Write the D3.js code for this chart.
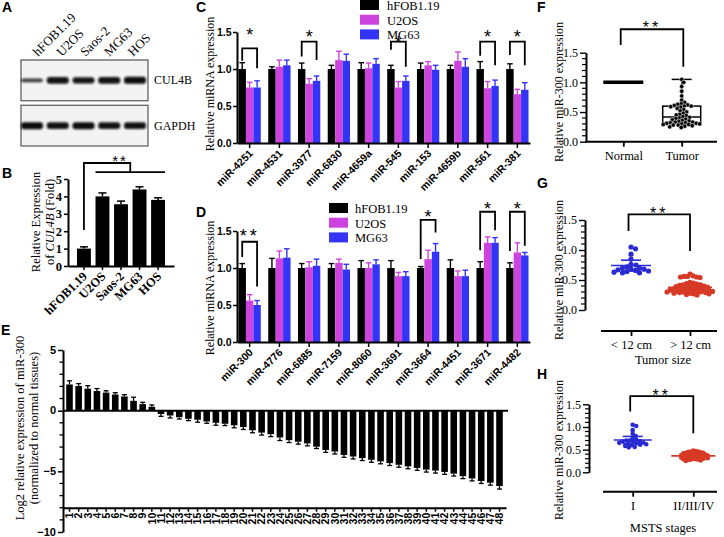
<!DOCTYPE html>
<html><head><meta charset="utf-8">
<script src="https://cdn.jsdelivr.net/npm/d3@7/dist/d3.min.js"></script>
<style>html,body{margin:0;padding:0;background:#fff;}svg{display:block;}</style>
</head><body>
<script>
// ================= DATA =================
const lanes = ["hFOB1.19","U2OS","Saos-2","MG63","HOS"];
const blotProteins = ["CUL4B","GAPDH"];
const cul4bDensity = [0.55,0.95,0.9,0.95,1.0];
const gapdhDensity = [1.0,0.95,1.0,0.95,0.95];

const bCells = ["hFOB1.19","U2OS","Saos-2","MG63","HOS"];
const bValues = [1.0,4.0,3.55,4.4,3.8];
const bErrors = [0.1,0.2,0.18,0.15,0.12];
const bTicks = [0,1,2,3,4,5];

const seriesNames = ["hFOB1.19","U2OS","MG63"];
const barTicks = [0,0.5,1.0,1.5];

const cMirs = ["miR-4251","miR-4531","miR-3977","miR-6830","miR-4659a","miR-545","miR-153","miR-4659b","miR-561","miR-381"];
const cHfob = [1,1,1,1,1,1,1,1,1,1];
const cU2os = [0.75,1.03,0.80,1.12,1.01,0.75,1.05,1.11,0.74,0.66];
const cMg63 = [0.75,1.05,0.84,1.11,1.07,0.84,0.99,1.03,0.77,0.72];
const cHfobErr = [0.085,0.03,0.08,0.05,0.085,0.05,0.08,0.05,0.10,0.07];
const cU2osErr = [0.07,0.09,0.07,0.12,0.07,0.08,0.05,0.12,0.09,0.065];
const cMg63Err = [0.09,0.07,0.065,0.09,0.07,0.065,0.06,0.11,0.08,0.095];
// bracket: category, top, left end, right end, star centre (data units), label
const cSig = [
  {cat:"miR-4251", top:1.28, left:1.11, right:1.01, star:1.52, label:"*"},
  {cat:"miR-3977", top:1.37, left:1.17, right:1.12, star:1.49, label:"*"},
  {cat:"miR-545",  top:1.37, left:1.26, right:1.03, star:1.41, label:"*"},
  {cat:"miR-561",  top:1.37, left:1.18, right:1.05, star:1.49, label:"*"},
  {cat:"miR-381",  top:1.37, left:1.19, right:1.05, star:1.49, label:"*"}
];

const dMirs = ["miR-300","miR-4776","miR-6885","miR-7159","miR-8060","miR-3691","miR-3664","miR-4451","miR-3671","miR-4482"];
const dHfob = [1,1,1,1,1,1,1,1,1,1];
const dU2os = [0.56,1.13,1.01,1.07,1.00,0.89,1.12,0.89,1.34,1.21];
const dMg63 = [0.50,1.14,1.03,0.98,1.05,0.89,1.22,0.89,1.34,1.17];
const dHfobErr = [0.06,0.13,0.06,0.06,0.10,0.10,0.02,0.11,0.085,0.07];
const dU2osErr = [0.08,0.10,0.075,0.05,0.07,0.05,0.12,0.07,0.08,0.13];
const dMg63Err = [0.06,0.12,0.09,0.07,0.06,0.06,0.11,0.08,0.07,0.04];
const dSig = [
  {cat:"miR-300",  top:1.355, left:1.15, right:0.75, star:1.48, label:"**"},
  {cat:"miR-3664", top:1.65,  left:1.12, right:1.48, star:1.74, label:"*"},
  {cat:"miR-3671", top:1.76,  left:1.24, right:1.51, star:1.85, label:"*"},
  {cat:"miR-4482", top:1.76,  left:1.23, right:1.30, star:1.85, label:"*"}
];

const eSamples = ["1","2","3","4","5","6","7","8","9","10","11","12","13","14","15","16","17","18","19","20","21","22","23","24","25","26","27","28","29","30","31","32","33","34","35","36","37","38","39","40","41","42","43","44","45","46","47","48"];
const eValues = [2.16,2.03,1.81,1.62,1.49,1.33,1.17,0.81,0.54,0.32,-0.27,-0.40,-0.54,-0.67,-0.75,-0.89,-1.00,-1.08,-1.21,-1.35,-1.62,-1.81,-1.94,-2.21,-2.43,-2.56,-2.70,-2.97,-3.24,-3.37,-3.65,-3.78,-3.91,-4.05,-4.18,-4.32,-4.46,-4.59,-4.72,-4.86,-4.94,-5.05,-5.19,-5.40,-5.59,-5.80,-5.94,-6.21];
const eErrors = [0.3,0.2,0.25,0.2,0.15,0.15,0.15,0.3,0.15,0.15,0.2,0.2,0.15,0.15,0.2,0.15,0.2,0.15,0.2,0.2,0.2,0.2,0.2,0.25,0.2,0.2,0.2,0.15,0.2,0.2,0.2,0.2,0.2,0.2,0.2,0.2,0.2,0.2,0.2,0.2,0.2,0.2,0.2,0.2,0.2,0.2,0.2,0.25];
const eTicks = [5,0,-5,-10];
const eMinorTicks = [4,3,2,1,-1,-2,-3,-4,-6,-7,-8,-9];

const dotTicks = [0,0.5,1.0,1.5];
const dotMinorTicks = [0.1,0.2,0.3,0.4,0.6,0.7,0.8,0.9,1.1,1.2,1.3,1.4];

const fGroups = ["Normal","Tumor"];
const fNormal = [1,1,1,1,1,1,1,1,1,1,1,1,1,1,1,1,1,1,1,1,1,1,1,1,1,1,1,1,1,1,1,1,1,1,1,1,1,1,1,1,1,1,1,1,1,1,1,1];
const fTumor = [1.05,1.00,0.93,0.85,0.77,0.70,0.66,0.64,0.63,0.62,0.61,0.60,0.60,0.59,0.58,0.56,0.54,0.52,0.50,0.48,0.46,0.45,0.44,0.42,0.41,0.40,0.39,0.38,0.37,0.36,0.35,0.34,0.33,0.33,0.32,0.32,0.31,0.31,0.30,0.30,0.29,0.29,0.28,0.28,0.27,0.26,0.25,0.24];

const gGroups = ["< 12 cm","> 12 cm"];
const gSmall = [1.05,1.02,0.93,0.85,0.76,0.75,0.72,0.70,0.70,0.68,0.68,0.67,0.66,0.65,0.64,0.63,0.62,0.62];
const gLarge = [0.60,0.57,0.56,0.56,0.55,0.55,0.54,0.46,0.45,0.44,0.43,0.42,0.42,0.41,0.40,0.40,0.39,0.39,0.38,0.38,0.37,0.36,0.36,0.35,0.35,0.34,0.34,0.33,0.33,0.33,0.32,0.32,0.31,0.31,0.30,0.30,0.30,0.29,0.29,0.28,0.28,0.27,0.27,0.26,0.25];
const gErr = [0.09,0.04];

const hGroups = ["I","II/III/IV"];
const hEarly = [1.05,1.02,0.93,0.85,0.80,0.75,0.72,0.70,0.70,0.69,0.68,0.67,0.66,0.65,0.64,0.63,0.62,0.61,0.60,0.58,0.56,0.55];
const hLate = [0.48,0.47,0.46,0.46,0.45,0.44,0.43,0.43,0.42,0.42,0.41,0.40,0.40,0.39,0.39,0.38,0.38,0.37,0.37,0.36,0.36,0.35,0.35,0.34,0.34,0.33,0.33,0.32,0.32,0.31,0.31,0.30,0.30,0.29,0.29,0.28,0.28,0.27,0.26,0.25];
const hErr = [0.08,0.03];

// ================= SETUP =================
const SERIF = "'Liberation Serif','Times New Roman',serif";
const SANS = "'Liberation Sans',Arial,sans-serif";
const barColors = ["#000000","#cc44dd","#3434f6"];
const dotBlue = "#2a2ad2", dotRed = "#d63a26";

const svg = d3.select("body").append("svg").attr("width",724).attr("height",537);
svg.append("rect").attr("width",724).attr("height",537).attr("fill","#fff");
const defs = svg.append("defs");
defs.append("filter").attr("id","blur").attr("x","-30%").attr("y","-150%").attr("width","160%").attr("height","400%")
  .append("feGaussianBlur").attr("stdDeviation","1.2 1.1");

function panelLabel(t,x,y){
  svg.append("text").attr("x",x).attr("y",y).attr("font-family",SANS).attr("font-weight","bold")
    .attr("font-size",14).text(t);
}
function styleAxis(g, opt){
  g.select(".domain").attr("stroke","#000").attr("stroke-width",opt.dw||2);
  g.selectAll(".tick line").attr("stroke","#000").attr("stroke-width",opt.tw||1.5);
  g.selectAll(".tick text").attr("fill","#000").attr("font-family",opt.font).attr("font-size",opt.size)
    .attr("font-weight",opt.bold?"bold":"normal");
}
function rotLabel(text,x,y,size,font){
  return svg.append("text").attr("transform",`translate(${x},${y}) rotate(-90)`).attr("text-anchor","middle")
    .attr("font-family",font||SERIF).attr("font-size",size).text(text);
}

// ================= PANEL A =================
panelLabel("A",2,12);
const laneX = d3.scalePoint().domain(lanes).range([32,135]);
const laneLabelX = d3.scalePoint().domain(lanes).range([38,133]);
const blotY = d3.scaleBand().domain(blotProteins).range([60,146]).paddingInner(0.1);
const densities = {CUL4B:cul4bDensity, GAPDH:gapdhDensity};
blotProteins.forEach(p=>{
  svg.append("rect").attr("x",21).attr("y",blotY(p)).attr("width",127).attr("height",blotY.bandwidth())
    .attr("fill","#f3f3f3").attr("stroke","#555").attr("stroke-width",1.2);
  const cy = blotY(p)+blotY.bandwidth()/2;
  svg.append("g").selectAll("rect").data(densities[p]).join("rect")
    .attr("x",(d,i)=>laneX(lanes[i])-11).attr("width",22)
    .attr("y",d=>cy-3.5*d).attr("height",d=>7*d).attr("rx",3)
    .attr("fill","#0a0a0a").attr("opacity",d=>0.55+0.45*d).attr("filter","url(#blur)");
  svg.append("text").attr("x",154).attr("y",cy+4).attr("font-family",SERIF).attr("font-size",12).text(p);
});
svg.append("g").selectAll("text").data(lanes).join("text")
  .attr("transform",d=>`translate(${laneLabelX(d)},57) rotate(-45)`)
  .attr("font-family",SERIF).attr("font-size",13).text(d=>d);

// ================= PANEL B =================
panelLabel("B",2,178);
{
  const y = d3.scaleLinear().domain([0,5]).range([266,179]);
  const x = d3.scaleBand().domain(bCells).range([68,174]).paddingInner(0.25).paddingOuter(0.485);
  svg.append("g").selectAll("rect").data(bValues).join("rect")
    .attr("x",(d,i)=>x(bCells[i])).attr("width",x.bandwidth())
    .attr("y",d=>y(d)).attr("height",d=>y(0)-y(d)).attr("fill","#000");
  const eg = svg.append("g").attr("stroke","#000").attr("stroke-width",1.5);
  bValues.forEach((v,i)=>{
    const cx = x(bCells[i])+x.bandwidth()/2;
    eg.append("line").attr("x1",cx).attr("x2",cx).attr("y1",y(v)).attr("y2",y(v+bErrors[i]));
    eg.append("line").attr("x1",cx-4).attr("x2",cx+4).attr("y1",y(v+bErrors[i])).attr("y2",y(v+bErrors[i]));
  });
  const ay = svg.append("g").attr("transform","translate(68,0)")
    .call(d3.axisLeft(y).tickValues(bTicks).tickFormat(d3.format("d")).tickSize(4).tickSizeOuter(0).tickPadding(2));
  styleAxis(ay,{font:SERIF,size:12.5,bold:true});
  const ax = svg.append("g").attr("transform",`translate(0,${y(0)})`)
    .call(d3.axisBottom(x).tickSize(4).tickSizeOuter(0));
  styleAxis(ax,{font:SERIF,size:12.5,bold:true});
  ax.selectAll(".tick text").attr("x",0).attr("y",0).attr("dy",0).attr("text-anchor","end")
    .attr("transform","translate(4,11) rotate(-45)");
  // significance
  const x1 = x(bCells[0])+x.bandwidth()/2;
  const gl = x(bCells[1]), gr = x(bCells[4])+x.bandwidth();
  const gm = (gl+gr)/2;
  svg.append("path").attr("d",`M${x1},${y(2.07)}V${y(5.92)}H${gm}V${y(5.4)}`).attr("fill","none").attr("stroke","#000").attr("stroke-width",1.8);
  svg.append("line").attr("x1",gl).attr("x2",gr).attr("y1",y(5.4)).attr("y2",y(5.4)).attr("stroke","#000").attr("stroke-width",1.8);
  svg.append("text").attr("x",120).attr("y",y(6.35)+10).attr("text-anchor","middle").attr("font-family",SANS)
    .attr("font-size",15).attr("letter-spacing",2).text("**");
  const yl = svg.append("text").attr("transform","translate(40,222) rotate(-90)").attr("text-anchor","middle")
    .attr("font-family",SERIF).attr("font-size",12.5);
  yl.append("tspan").attr("x",0).attr("y",0).text("Relative Expression");
  const t2 = yl.append("tspan").attr("x",0).attr("y",14);
  t2.append("tspan").text("of ");
  t2.append("tspan").attr("font-style","italic").text("CUL4B");
  t2.append("tspan").text(" (Fold)");
}

// ================= PANELS C & D =================
function groupedPanel(o){
  const y = d3.scaleLinear().domain([0,1.5]).range([o.y0, o.y0-111]);
  const x = d3.scaleBand().domain(o.cats).range([237,530]).paddingInner(0.25).paddingOuter(0.05);
  const xs = d3.scaleBand().domain([0,1,2]).range([0,x.bandwidth()]);
  const series=[o.s0,o.s1,o.s2], errs=[o.e0,o.e1,o.e2];
  series.forEach((vals,si)=>{
    const g = svg.append("g");
    g.selectAll("rect").data(vals).join("rect")
      .attr("x",(d,i)=>x(o.cats[i])+xs(si)).attr("width",xs.bandwidth())
      .attr("y",d=>y(d)).attr("height",d=>y(0)-y(d)).attr("fill",barColors[si]);
    const eg = svg.append("g").attr("stroke",barColors[si]).attr("stroke-width",1.4);
    vals.forEach((v,i)=>{
      const cx = x(o.cats[i])+xs(si)+xs.bandwidth()/2, ye = y(v+errs[si][i]);
      eg.append("line").attr("x1",cx).attr("x2",cx).attr("y1",y(v)).attr("y2",ye);
      eg.append("line").attr("x1",cx-2.8).attr("x2",cx+2.8).attr("y1",ye).attr("y2",ye);
    });
  });
  const ay = svg.append("g").attr("transform","translate(237,0)")
    .call(d3.axisLeft(y).tickValues(barTicks).tickFormat(d3.format(".1f")).tickSize(4).tickSizeOuter(0).tickPadding(1.5));
  styleAxis(ay,{font:SANS,size:10.5,bold:true});
  const ax = svg.append("g").attr("transform",`translate(0,${y(0)})`)
    .call(d3.axisBottom(x).tickSize(5).tickSizeOuter(0));
  styleAxis(ax,{font:SANS,size:10.5,bold:true});
  ax.selectAll(".tick text").attr("x",0).attr("y",0).attr("dy",0).attr("text-anchor","end")
    .attr("transform","translate(4,11) rotate(-45)");
  // brackets
  o.sig.forEach(s=>{
    const xl = x(s.cat)+xs(0)+xs.bandwidth()/2, xr = x(s.cat)+xs(2)+xs.bandwidth()/2;
    svg.append("path").attr("d",`M${xl},${y(s.left)}V${y(s.top)}H${xr}V${y(s.right)}`)
      .attr("fill","none").attr("stroke","#000").attr("stroke-width",1.8);
    svg.append("text").attr("x",(xl+xr)/2).attr("y",y(s.star)+10).attr("text-anchor","middle")
      .attr("font-family",SANS).attr("font-size",18).attr("letter-spacing",s.label.length>1?3:0).text(s.label);
  });
  // legend
  seriesNames.forEach((n,i)=>{
    svg.append("rect").attr("x",o.lx).attr("y",o.ly+i*14.7).attr("width",19).attr("height",10).attr("fill",barColors[i]);
    svg.append("text").attr("x",o.lx+o.tdx).attr("y",o.ly+i*14.7+10).attr("font-family",SERIF).attr("font-size",12.5).text(n);
  });
  rotLabel("Relative miRNA expression",214,o.labY,12);
}
panelLabel("C",196,12);
groupedPanel({y0:143,cats:cMirs,s0:cHfob,s1:cU2os,s2:cMg63,e0:cHfobErr,e1:cU2osErr,e2:cMg63Err,sig:cSig,lx:360,ly:0,tdx:27,labY:84});
panelLabel("D",196,217);
groupedPanel({y0:342,cats:dMirs,s0:dHfob,s1:dU2os,s2:dMg63,e0:dHfobErr,e1:dU2osErr,e2:dMg63Err,sig:dSig,lx:329,ly:203,tdx:26,labY:288});

// ================= PANEL E =================
panelLabel("E",1,335);
{
  const y = d3.scaleLinear().domain([-10,5]).range([532,350]);
  const x = d3.scaleBand().domain(eSamples).range([63,506]).paddingInner(0.28).paddingOuter(0.35);
  svg.append("g").selectAll("rect").data(eValues).join("rect")
    .attr("x",(d,i)=>x(eSamples[i])).attr("width",x.bandwidth())
    .attr("y",d=>Math.min(y(d),y(0))).attr("height",d=>Math.abs(y(d)-y(0))).attr("fill","#000");
  const eg = svg.append("g").attr("stroke","#000").attr("stroke-width",1.3);
  eValues.forEach((v,i)=>{
    const cx = x(eSamples[i])+x.bandwidth()/2, ye = y(v+Math.sign(v)*eErrors[i]);
    eg.append("line").attr("x1",cx).attr("x2",cx).attr("y1",y(v)).attr("y2",ye);
    eg.append("line").attr("x1",cx-2.5).attr("x2",cx+2.5).attr("y1",ye).attr("y2",ye);
  });
  svg.append("line").attr("x1",63).attr("x2",508).attr("y1",y(0)).attr("y2",y(0)).attr("stroke","#000").attr("stroke-width",2);
  const ay = svg.append("g").attr("transform","translate(63,0)")
    .call(d3.axisLeft(y).tickValues(eTicks).tickFormat(d3.format("d")).tickSize(5).tickSizeOuter(0).tickPadding(2));
  styleAxis(ay,{font:SANS,size:11,bold:true});
  ay.selectAll(".tick text").attr("dy","0.3em");
  ay.selectAll(".minor").data(eMinorTicks).join("line").attr("x1",-3.5).attr("x2",0)
    .attr("y1",d=>y(d)).attr("y2",d=>y(d)).attr("stroke","#000").attr("stroke-width",1.3);
  const ax = svg.append("g").attr("transform",`translate(0,${y(-8)})`)
    .call(d3.axisBottom(x).tickSize(4).tickSizeOuter(0));
  styleAxis(ax,{font:SANS,size:10.5,bold:true});
  ax.selectAll(".tick text").attr("x",0).attr("y",0).attr("dy",0).attr("text-anchor","end")
    .attr("transform","translate(3.8,5) rotate(-90)");
  const yl = svg.append("text").attr("transform","translate(24,428) rotate(-90)").attr("text-anchor","middle")
    .attr("font-family",SERIF).attr("font-size",12.5);
  yl.append("tspan").attr("x",0).attr("y",0).text("Log2 relative expression of miR-300");
  yl.append("tspan").attr("x",0).attr("y",14).text("(normalized to normal tissues)");
}

// ================= DOT PANELS F G H =================
function swarm(values, yS, sep){
  const pts=[];
  values.map(v=>({v,y:yS(v)})).sort((a,b)=>a.y-b.y).forEach(p=>{
    let dx=0;
    for(let k=0;k<600;k++){
      const c=(k%2?1:-1)*Math.ceil(k/2)*0.5;
      if(pts.every(q=>(q.x-c)*(q.x-c)+(q.y-p.y)*(q.y-p.y)>=sep*sep)){dx=c;break;}
    }
    pts.push({x:dx,y:p.y,v:p.v});
  });
  return pts;
}
function dotYAxis(x0,y){
  const ay = svg.append("g").attr("transform",`translate(${x0},0)`)
    .call(d3.axisLeft(y).tickValues(dotTicks).tickFormat(d3.format(".1f")).tickSize(6).tickSizeOuter(0).tickPadding(2));
  styleAxis(ay,{font:SERIF,size:12,bold:false,dw:2,tw:1.4});
  ay.selectAll(".minor").data(dotMinorTicks).join("line").attr("x1",-4).attr("x2",0)
    .attr("y1",d=>y(d)).attr("y2",d=>y(d)).attr("stroke","#000").attr("stroke-width",1.2);
}
function dotXAxis(y0,x,x1,x2){
  const ax = svg.append("g").attr("transform",`translate(0,${y0})`).call(d3.axisBottom(x).tickSize(5).tickSizeOuter(0).tickPadding(4));
  ax.select(".domain").remove();
  ax.append("line").attr("x1",x1).attr("x2",x2).attr("stroke","#000").attr("stroke-width",2);
  styleAxis(ax,{font:SERIF,size:12.5,bold:false,tw:1.8});
  return ax;
}
function bracket(xl,xr,yTop,yL,yR,starY){
  svg.append("path").attr("d",`M${xl},${yL}V${yTop}H${xr}V${yR}`).attr("fill","none").attr("stroke","#000").attr("stroke-width",1.8);
  svg.append("text").attr("x",(xl+xr)/2).attr("y",starY+10).attr("text-anchor","middle").attr("font-family",SANS)
    .attr("font-size",16).attr("letter-spacing",3).text("**");
}

// ---- F ----
panelLabel("F",537,12);
{
  const y = d3.scaleLinear().domain([0,1.5]).range([141.7,52.7]);
  const x = d3.scalePoint().domain(fGroups).range([623.3,681.7]);
  dotYAxis(586,y);
  dotXAxis(y(0),x,585,717);
  const bw = 38;
  [fNormal,fTumor].forEach((vals,gi)=>{
    const s = vals.slice().sort(d3.ascending);
    const q1=d3.quantile(s,0.25), md=d3.quantile(s,0.5), q3=d3.quantile(s,0.75);
    const cx = x(fGroups[gi]);
    const g = svg.append("g").attr("stroke","#000").attr("fill","none");
    if(q3>q1){
      g.append("line").attr("x1",cx).attr("x2",cx).attr("y1",y(q3)).attr("y2",y(d3.max(s))).attr("stroke-width",1.5);
      g.append("line").attr("x1",cx-10).attr("x2",cx+10).attr("y1",y(d3.max(s))).attr("y2",y(d3.max(s))).attr("stroke-width",1.5);
      g.append("line").attr("x1",cx).attr("x2",cx).attr("y1",y(q1)).attr("y2",y(d3.min(s))).attr("stroke-width",1.5);
      g.append("rect").attr("x",cx-bw/2).attr("width",bw).attr("y",y(q3)).attr("height",y(q1)-y(q3)).attr("stroke-width",1.5);
      g.append("line").attr("x1",cx-bw/2).attr("x2",cx+bw/2).attr("y1",y(md)).attr("y2",y(md)).attr("stroke-width",1.5);
      const pts = swarm(vals,y,3.5);
      svg.append("g").selectAll("circle").data(pts).join("circle")
        .attr("cx",d=>cx+d.x).attr("cy",d=>d.y).attr("r",2.2).attr("fill","#000").attr("stroke","#fff").attr("stroke-width",0.5);
    } else {
      g.append("line").attr("x1",cx-20).attr("x2",cx+20).attr("y1",y(md)).attr("y2",y(md)).attr("stroke-width",3.5);
    }
  });
  bracket(620.7,683.3,y(1.895),y(1.63),y(1.265),y(1.995));
  rotLabel("Relative miR-300 expression",563,92,12);
}

// ---- G & H ----
function scatterPanel(o){
  const y = d3.scaleLinear().domain([0,1.5]).range(o.yr);
  const x = d3.scalePoint().domain(o.groups).range(o.xr);
  dotYAxis(o.ax,y);
  dotXAxis(o.xAxisY,x,o.xl1,o.xl2);
  [o.a,o.b].forEach((vals,gi)=>{
    const cx = x(o.groups[gi]), col = gi===0?dotBlue:dotRed;
    const pts = swarm(vals,y,o.sep[gi]);
    svg.append("g").selectAll("circle").data(pts).join("circle")
      .attr("cx",d=>cx+d.x).attr("cy",d=>d.y).attr("r",o.r).attr("fill",col);
    const m = d3.mean(vals), e = o.err[gi];
    const g = svg.append("g").attr("stroke",col).attr("stroke-width",1.6);
    g.append("line").attr("x1",cx-o.mw[gi]).attr("x2",cx+o.mw[gi]).attr("y1",y(m)).attr("y2",y(m));
    g.append("line").attr("x1",cx).attr("x2",cx).attr("y1",y(m-e)).attr("y2",y(m+e));
    g.append("line").attr("x1",cx-10).attr("x2",cx+10).attr("y1",y(m+e)).attr("y2",y(m+e));
    g.append("line").attr("x1",cx-10).attr("x2",cx+10).attr("y1",y(m-e)).attr("y2",y(m-e));
  });
  bracket(x(o.groups[0])-2.5,x(o.groups[1]),y(o.br[0]),y(o.br[1]),y(o.br[2]),y(o.br[3]));
  rotLabel("Relative miR-300 expression",563,o.labY,12);
  svg.append("text").attr("x",663).attr("y",o.titleY).attr("text-anchor","middle").attr("font-family",SERIF).attr("font-size",12.5).text(o.title);
}
panelLabel("G",537,188);
scatterPanel({yr:[310,220],xr:[631,690],groups:gGroups,a:gSmall,b:gLarge,ax:585,xAxisY:331,xl1:601,xl2:717,
  sep:[4.6,3.3],r:2.6,err:gErr,mw:[20,22],br:[1.595,1.317,0.983,1.68],labY:270,title:"Tumor size",titleY:364});
panelLabel("H",537,379);
scatterPanel({yr:[472.3,404.3],xr:[632.7,693.3],groups:hGroups,a:hEarly,b:hLate,ax:589,xAxisY:491.7,xl1:603,xl2:717,
  sep:[3.4,2.4],r:2.3,err:hErr,mw:[19,22],br:[1.68,1.34,0.86,1.79],labY:450,title:"MSTS stages",titleY:532});
</script>
</body></html>
